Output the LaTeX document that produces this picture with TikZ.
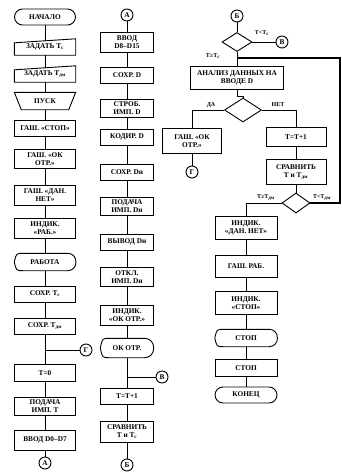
\documentclass[tikz,border=0pt]{standalone}
\usepackage{fontspec}
\setmainfont{Liberation Serif}
\usetikzlibrary{shapes.geometric}
\tikzset{
  lin/.style={line width=0.9pt},
  txt/.style={font=\bfseries\fontsize{7.3}{7.8}\selectfont, align=center, inner sep=1pt},
  blok/.style={txt, draw, lin, minimum width=#1, minimum height=16pt},
  blok/.default=61pt,
  pust/.style={txt, minimum width=#1, minimum height=16pt},
  pust/.default=61pt,
  term/.style={blok=#1, rounded corners=8pt},
  term/.default=61pt,
  romb/.style={draw, lin, diamond, inner sep=0pt},
  soed/.style={txt, draw, lin, circle, minimum size=12pt, inner sep=0pt},
  metka/.style={txt, font=\bfseries\fontsize{6}{6.5}\selectfont}
}
\begin{document}
\begin{tikzpicture}[x=1pt,y=-1pt]
\useasboundingbox (0,0) rectangle (342,474) ;
\node [term] (nach) at (45,17) {НАЧАЛО} ;
\node [pust] (zadTs) at (45,47) {ЗАДАТЬ T\textsubscript{с}} ;
\draw [lin] ([yshift=-4pt]zadTs.north west) -- (zadTs.north east) -- (zadTs.south east) -- (zadTs.south west) -- cycle ;
\node [pust] (zadTd) at (45,74) {ЗАДАТЬ T\textsubscript{дм}} ;
\draw [lin] ([yshift=-4pt]zadTd.north west) -- (zadTd.north east) -- (zadTd.south east) -- (zadTd.south west) -- cycle ;
\node [pust,minimum height=17pt] (pusk) at (45,101) {ПУСК} ;
\draw [lin] (pusk.north west) -- (pusk.north east) -- ([xshift=-7pt]pusk.south east) -- ([xshift=7pt]pusk.south west) -- cycle ;
\node [blok] (gstop) at (45,128) {ГАШ. «СТОП»} ;
\node [blok,minimum height=19pt] (gok) at (45,159) {ГАШ. «ОК\\ОТР.»} ;
\node [blok,minimum height=20pt] (gdan) at (45,195) {ГАШ. «ДАН.\\НЕТ»} ;
\node [blok,minimum height=20pt] (irab) at (45,228) {ИНДИК.\\«РАБ.»} ;
\node [pust,minimum height=17pt] (rab) at (45,262) {РАБОТА} ;
\draw [lin] ([xshift=9pt]rab.north west) -- ([xshift=-8pt]rab.north east) .. controls ([xshift=3pt]rab.north east) and ([xshift=3pt]rab.south east) .. ([xshift=-8pt]rab.south east) -- ([xshift=9pt]rab.south west) .. controls ([xshift=2pt]rab.south west) .. (rab.west) .. controls ([xshift=2pt]rab.north west) .. ([xshift=9pt]rab.north west) ;
\node [blok] (sTs) at (45,294) {СОХР. T\textsubscript{с}} ;
\node [blok] (sTd) at (45,326) {СОХР. T\textsubscript{дм}} ;
\coordinate (jG) at (45,350) ;
\node [soed] (cG1) at (86,350) {Г} ;
\node [blok,minimum height=17pt] (t0) at (45,373) {T=0} ;
\node [blok,minimum height=18pt] (pimpT) at (45,406) {ПОДАЧА\\ИМП. T} ;
\node [blok,minimum height=20pt] (vvod1) at (45,440) {ВВОД D0–D7} ;
\node [soed] (cA1) at (45,463) {А} ;
\draw [lin] (nach) -- ([yshift=-2pt]zadTs.north) (zadTs) -- ([yshift=-2pt]zadTd.north) (zadTd) -- (pusk) (pusk) -- (gstop) (gstop) -- (gok) (gok) -- (gdan) (gdan) -- (irab) (irab) -- (rab) (rab) -- (sTs) (sTs) -- (sTd) (sTd) -- (t0) (cG1) -- (jG) (t0) -- (pimpT) (pimpT) -- (vvod1) (vvod1) -- (cA1) ;
\node [soed] (cA2) at (127,15) {А} ;
\node [blok=53pt,minimum height=20pt] (vvod2) at (127,42) {ВВОД\\D8–D15} ;
\node [blok=53pt] (sD) at (127,75) {СОХР. D} ;
\node [blok=53pt,minimum height=18pt] (strob) at (127,108) {СТРОБ.\\ИМП. D} ;
\node [blok=53pt] (kod) at (127,137) {КОДИР. D} ;
\node [blok=53pt] (sDn) at (127,172) {СОХР. Dн} ;
\node [blok=53pt,minimum height=18pt] (pimpD) at (127,206) {ПОДАЧА\\ИМП. Dн} ;
\node [blok=53pt] (vyv) at (127,242) {ВЫВОД Dн} ;
\node [blok=53pt,minimum height=19pt] (otkl) at (127,277) {ОТКЛ.\\ИМП. Dн} ;
\node [blok=53pt,minimum height=20pt] (iok) at (127,315) {ИНДИК.\\«ОК ОТР.»} ;
\node [pust=53pt,minimum height=19pt] (okotr) at (127,348) {ОК ОТР.} ;
\draw [lin] ([xshift=9pt]okotr.north west) -- ([xshift=-9pt]okotr.north east) .. controls ([xshift=3pt]okotr.north east) and ([xshift=3pt]okotr.south east) .. ([xshift=-9pt]okotr.south east) -- ([xshift=9pt]okotr.south west) .. controls ([xshift=2pt]okotr.south west) .. (okotr.west) .. controls ([xshift=2pt]okotr.north west) .. ([xshift=9pt]okotr.north west) ;
\coordinate (jV) at (127,377) ;
\node [soed] (cV1) at (162,377) {В} ;
\node [blok=53pt] (tt1) at (127,396) {T=T+1} ;
\node [blok=53pt,minimum height=21pt] (srTs) at (127,432) {СРАВНИТЬ\\T и T\textsubscript{с}} ;
\node [soed] (cB1) at (127,465) {Б} ;
\draw [lin] (cA2) -- (vvod2) (vvod2) -- (sD) (sD) -- (strob) (strob) -- (kod) (kod) -- (sDn) (sDn) -- (pimpD) (pimpD) -- (vyv) (vyv) -- (otkl) (otkl) -- (iok) (iok) -- (okotr) (okotr) -- (tt1) (cV1) -- (jV) (tt1) -- (srTs) (srTs) -- (cB1) ;
\node [soed] (cB2) at (237,16) {Б} ;
\node [romb,minimum width=30pt,minimum height=19pt] (r1) at (237,42) {} ;
\node [soed] (cV2) at (282,42) {В} ;
\coordinate (jL) at (237,58) ;
\node [blok=93pt,minimum height=23pt] (anal) at (237,78) {АНАЛИЗ ДАННЫХ НА\\ВВОДЕ D} ;
\node [romb,minimum width=37pt,minimum height=24pt] (r2) at (243,110) {} ;
\node [blok=59pt,minimum height=25pt] (gok2) at (192,141) {ГАШ. «ОК\\ОТР.»} ;
\node [soed] (cG2) at (192,172) {Г} ;
\node [blok=60pt,minimum height=19pt] (tt2) at (296,137) {T=T+1} ;
\node [blok=60pt,minimum height=25pt] (srTd) at (296,172) {СРАВНИТЬ\\T и T\textsubscript{дм}} ;
\node [romb,minimum width=28pt,minimum height=20pt] (r3) at (296,203) {} ;
\coordinate (kP1) at (340,203) ;
\coordinate (kP2) at (340,58) ;
\node [blok=62pt,minimum height=23pt] (idan) at (246,228) {ИНДИК.\\«ДАН. НЕТ»} ;
\node [blok=62pt,minimum height=22pt] (grab) at (246,266) {ГАШ. РАБ.} ;
\node [blok=62pt,minimum height=23pt] (istop) at (246,303) {ИНДИК.\\«СТОП»} ;
\node [pust=62pt,minimum height=17pt] (stop1) at (246,338) {СТОП} ;
\draw [lin] ([xshift=9pt]stop1.north west) -- ([xshift=-8pt]stop1.north east) .. controls ([xshift=3pt]stop1.north east) and ([xshift=3pt]stop1.south east) .. ([xshift=-8pt]stop1.south east) -- ([xshift=9pt]stop1.south west) .. controls ([xshift=2pt]stop1.south west) .. (stop1.west) .. controls ([xshift=2pt]stop1.north west) .. ([xshift=9pt]stop1.north west) ;
\node [blok=62pt,minimum height=17pt] (stop2) at (246,368) {СТОП} ;
\node [term=62pt] (kon) at (246,395) {КОНЕЦ} ;
\draw [lin] (cB2) -- (r1) (r1) -- (cV2) (r1) -- (anal) ;
\draw [line width=1.4pt] (r3.east) -- (kP1) -- (kP2) -- (jL) ;
\draw [lin] (anal.south) -- ++(0,6) -| (r2.north) ;
\draw [lin] (r2.west) -| (gok2.north) (gok2) -- (cG2) ;
\draw [lin] (r2.east) -| (tt2.north) (tt2) -- (srTd) (srTd) -- (r3) ;
\draw [lin] (r3.west) -| (idan.north) (idan) -- (grab) (grab) -- (istop) (istop) -- (stop1) (stop1) -- (stop2) (stop2) -- (kon) ;
\node [metka] (lTs1) at (262,33) {T<T\textsubscript{с}} ;
\node [metka] (lTs2) at (213,56) {T≥T\textsubscript{с}} ;
\node [metka] (lDa) at (211,105) {ДА} ;
\node [metka] (lNet) at (278,105) {НЕТ} ;
\node [metka] (lTd1) at (266,197) {T≥T\textsubscript{дм}} ;
\node [metka] (lTd2) at (322,197) {T<T\textsubscript{дм}} ;
\end{tikzpicture}
\end{document}
